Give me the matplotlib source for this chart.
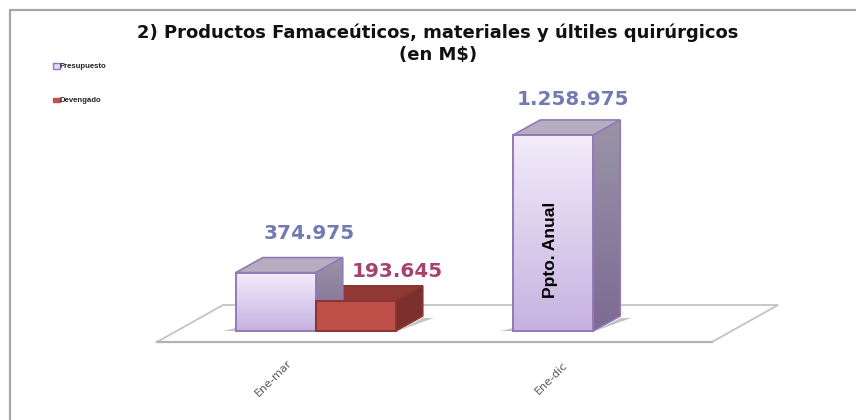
import matplotlib
matplotlib.use('Agg')
import matplotlib.pyplot as plt
from matplotlib.lines import Line2D
from matplotlib.patches import Polygon, Rectangle
from matplotlib.transforms import IdentityTransform
import numpy as np

W, H = 856, 420

titulo = '2) Productos Famaceúticos, materiales y últiles quirúrgicos\n(en M$)'
categorias = ['Ene-mar', 'Ene-dic']
presupuesto = [374975, 1258975]
devengado = [193645, None]
etiq_pres = ['374.975', '1.258.975']
etiq_dev = ['193.645', '']
series = ['Presupuesto', 'Devengado']

fig = plt.figure(figsize=(W / 100, H / 100), dpi=100)
plt.rcParams['font.family'] = 'Liberation Sans'

# marco exterior: solo arriba e izquierda
fig.add_artist(Line2D([9.5 / W, 9.5 / W, 1], [0, 1 - 9.5 / H, 1 - 9.5 / H], transform=fig.transFigure,
                      color='#a6a6a6', lw=1.6))

# ejes: eje x va por el borde frontal del piso
ax = fig.add_axes([157 / W, (H - 342) / H, 555 / W, 233.6 / H])
ax.set_xlim(-0.5, 1.5)
ax.set_ylim(0, 1500000)
ax.axis('off')
fig.canvas.draw()

IDT = IdentityTransform()
DX, DY = 27, 15       # profundidad de la barra
OX, OY = 20, 11       # distancia de la barra al borde frontal
ANCHO = 80 / 277.5    # ancho de barra en unidades de categoria

def poli(pts, **kw):
    p = Polygon(pts, closed=True, transform=IDT, clip_on=False, **kw)
    ax.add_patch(p)
    return p

def rgb(h):
    return matplotlib.colors.to_rgb(h)

def barra3d(xc, val, frente, lado, techo, borde, grad=None):
    x0, y0 = ax.transData.transform((xc, 0))
    x1, y1 = ax.transData.transform((xc + ANCHO, val))
    x0 += OX; x1 += OX; y0 += OY; y1 += OY
    # sombra
    poli([(x0 - 13, y0), (x0, y0 + 3), (x0, y0)], fc='#8a8a8a', ec='none', alpha=0.5, zorder=2)
    poli([(x1 + 2, y0), (x1 + DX, y0 + DY - 2), (x1 + DX + 11, y0 + DY - 2)], fc='#8a8a8a', ec='none', alpha=0.5, zorder=2)
    poli([(x0, y1), (x1, y1), (x1 + DX, y1 + DY), (x0 + DX, y1 + DY)], fc=techo, ec=borde, lw=1.2, zorder=3)
    s = poli([(x1, y0), (x1 + DX, y0 + DY), (x1 + DX, y1 + DY), (x1, y1)], fc=lado[0], ec=borde, lw=1.2, zorder=3)
    f = poli([(x0, y0), (x1, y0), (x1, y1), (x0, y1)], fc=frente[0], ec=borde, lw=1.4, zorder=5)
    if grad:
        g = np.linspace(0, 1, 64)[:, None, None]
        img = (1 - g) * np.array(frente[0])[None, None, :] + g * np.array(frente[1])[None, None, :]
        im = ax.imshow(img, extent=(x0, x1, y0, y1), transform=IDT, aspect='auto', zorder=4.5, origin='upper')
        im.set_clip_path(f)
        f.set_facecolor('none')
        g2 = (1 - g) * np.array(lado[0])[None, None, :] + g * np.array(lado[1])[None, None, :]
        im2 = ax.imshow(g2, extent=(x1, x1 + DX, y0, y1 + DY), transform=IDT, aspect='auto', zorder=3.5, origin='upper')
        im2.set_clip_path(s)
        s.set_facecolor('none')
        s.set_zorder(4)
    return x0, x1, y1

# piso
fx0, fy = ax.transData.transform((-0.5, 0))
fx1, _ = ax.transData.transform((1.5, 0))
poli([(fx0, fy), (fx1, fy), (fx1 + 66, fy + 37), (fx0 + 66, fy + 37)], fc='white', ec='#c4c4c4', lw=1.3, zorder=1)
ax.plot([fx0, fx1], [fy, fy], color='#b4b4b4', lw=1.6, transform=IDT, zorder=1.5, clip_on=False)

ax.set_xlim(-0.5, 1.5)
ax.set_ylim(0, 1500000)

lila = (rgb('#f2ecfa'), rgb('#c6b2e0'))
lila_lado = (rgb('#9a94a8'), rgb('#7d6a93'))
off_pres = [(73, 39), (60, 35)]
for i, v in enumerate(presupuesto):
    x0, x1, ytop = barra3d(i - ANCHO, v, lila, lila_lado, '#b5aec0', '#9478b8', grad=True)
    ax.text(x0 + off_pres[i][0], ytop + off_pres[i][1], etiq_pres[i], transform=IDT, ha='center', va='center',
            fontsize=14.4, fontweight='bold', family='DejaVu Sans', color='#7379b2', zorder=6)

for i, v in enumerate(devengado):
    if v is None:
        continue
    x0, x1, ytop = barra3d(i, v, ('#bd4f48', '#bd4f48'), ('#7b302d', '#7b302d'), '#913833', '#8a3531')
    ax.text(x0 + 82, ytop + 29, etiq_dev[i], transform=IDT, ha='center', va='center',
            fontsize=14.4, fontweight='bold', family='DejaVu Sans', color='#a8426a', zorder=6)

# etiqueta sobre la barra anual
ax.text(551 / W, 1 - 250 / H, 'Ppto. Anual', transform=fig.transFigure, rotation=90, ha='center', va='center',
        fontsize=12.5, fontweight='bold', color='black', zorder=7)

# etiquetas de categoria
for i, c in enumerate(categorias):
    x, y = ax.transData.transform((i, 0))
    ax.text(x - 22, y - 36, c, transform=IDT, rotation=45, ha='center', va='center',
            fontsize=8, family='DejaVu Sans', color='#595959')

# titulo
fig.text(438 / W, 1 - 44 / H, titulo, ha='center', va='center', fontsize=13, fontweight='bold',
         family='DejaVu Sans', color='#111111', linespacing=1.25)

# leyenda
colores_ley = ['#e6dcf2', '#c0504d']
bordes_ley = ['#9478b8', '#c0504d']
altos_ley = [6, 4]
for nombre, yy, c, b, a in zip(series, [66, 100], colores_ley, bordes_ley, altos_ley):
    fig.add_artist(Rectangle((52.5 / W, 1 - (yy + a / 2) / H), 7 / W, a / H, transform=fig.transFigure, fc=c, ec=b, lw=1))
    fig.text(60 / W, 1 - yy / H, nombre, ha='left', va='center', fontsize=5.6, fontweight='bold', color='#222222')

fig.savefig('out.png', dpi=100)
